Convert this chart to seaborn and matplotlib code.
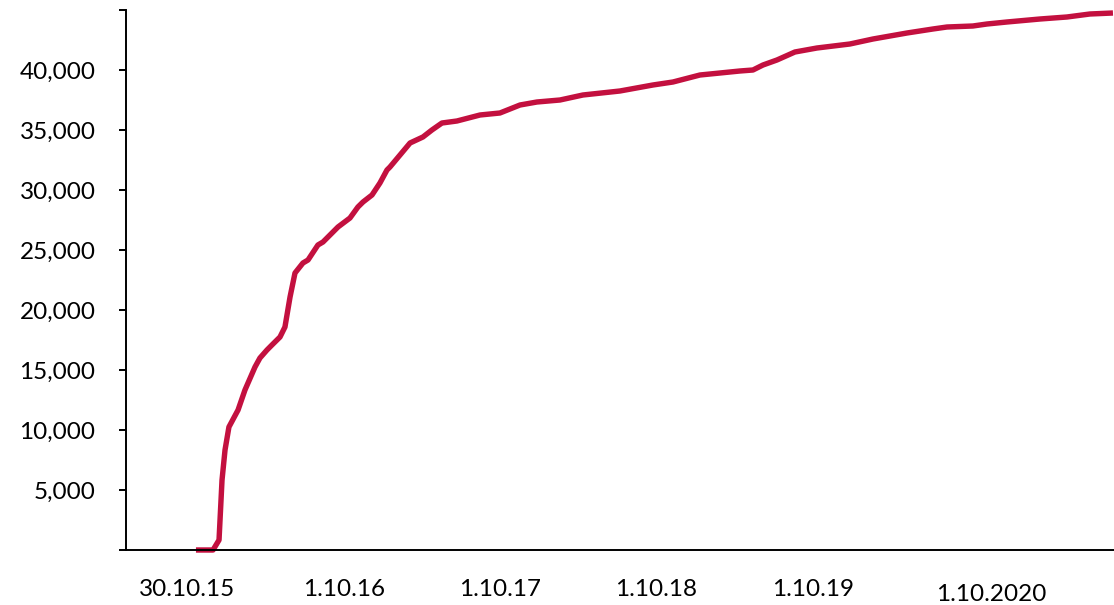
import matplotlib
matplotlib.use("Agg")
import matplotlib.pyplot as plt
import matplotlib.transforms as mtransforms
import seaborn as sns
import pandas as pd

# months since 30.10.15 (approx.)
months = [0.65, 1.96, 2.42, 2.65, 2.88, 3.18, 3.88, 4.41, 5.18, 5.56, 6.10, 6.48,
          7.10, 7.48, 7.87, 8.25, 8.86, 9.25, 10.01, 10.40, 11.55, 12.47, 13.08,
          13.47, 14.16, 14.77, 15.31, 15.54, 16.31, 17.08, 18.07, 18.76, 19.53,
          20.68, 22.45, 23.98, 25.52, 26.82, 28.59, 30.35, 33.19, 35.72, 37.26,
          39.33, 40.87, 42.40, 43.40, 44.17, 45.24, 46.62, 48.31, 50.84, 52.61,
          55.22, 57.21, 58.29, 60.28, 61.36, 62.89, 65.43, 67.50, 69.26, 71.03]
values = [0, 0, 833, 5833, 8333, 10250, 11667, 13333, 15250, 16000, 16667, 17083,
          17750, 18583, 21083, 23083, 23917, 24167, 25417, 25667, 26917, 27667, 28583,
          29000, 29583, 30583, 31667, 31917, 32917, 33917, 34417, 35000, 35583,
          35750, 36250, 36417, 37083, 37333, 37500, 37917, 38250, 38750, 39000,
          39583, 39750, 39917, 40000, 40417, 40833, 41500, 41833, 42167, 42583,
          43083, 43417, 43583, 43667, 43833, 44000, 44250, 44417, 44667, 44750]

x_tick_pos = [0, 12, 24, 36, 48, 61.7]
x_tick_labels = ["30.10.15", "1.10.16", "1.10.17", "1.10.18", "1.10.19", "1.10.2020"]
y_ticks = [0, 5000, 10000, 15000, 20000, 25000, 30000, 35000, 40000, 45000]
y_tick_labels = ["", "5,000", "10,000", "15,000", "20,000", "25,000", "30,000",
                 "35,000", "40,000", ""]

sns.set_style("white")
plt.rcParams["font.family"] = ["Lato", "DejaVu Sans"]

df = pd.DataFrame({"month": months, "value": values})

fig = plt.figure(figsize=(11.14, 6.05), dpi=100)
ax = fig.add_axes([126 / 1114, 55 / 605, 1 - 126 / 1114, 540 / 605])

sns.lineplot(data=df, x="month", y="value", ax=ax, color="#C3103F",
             linewidth=3.9, clip_on=False)
for ln in ax.lines:
    ln.set_clip_on(False)
    ln.set_solid_joinstyle("round")
    ln.set_solid_capstyle("butt")

ax.set_xlim(-4.72, 71.11)
ax.set_ylim(0, 45000)

ax.set_yticks(y_ticks)
ax.set_yticklabels(y_tick_labels)
ax.set_xticks(x_tick_pos)
ax.set_xticklabels(x_tick_labels)

ax.tick_params(axis="y", length=5, width=1.4, color="black", pad=17,
               labelsize=17.5, labelcolor="black", left=True)
ax.tick_params(axis="x", length=0, pad=21, labelsize=17.5, labelcolor="black")

# last date label sits a little lower
lbl = ax.get_xticklabels()[-1]
lbl.set_transform(lbl.get_transform() + mtransforms.ScaledTranslation(0, -5 / 100, fig.dpi_scale_trans))

ax.set_xlabel("")
ax.set_ylabel("")
for side in ["top", "right"]:
    ax.spines[side].set_visible(False)
for side in ["left", "bottom"]:
    ax.spines[side].set_color("black")
    ax.spines[side].set_linewidth(1.4)

fig.savefig("out.png", dpi=100)
